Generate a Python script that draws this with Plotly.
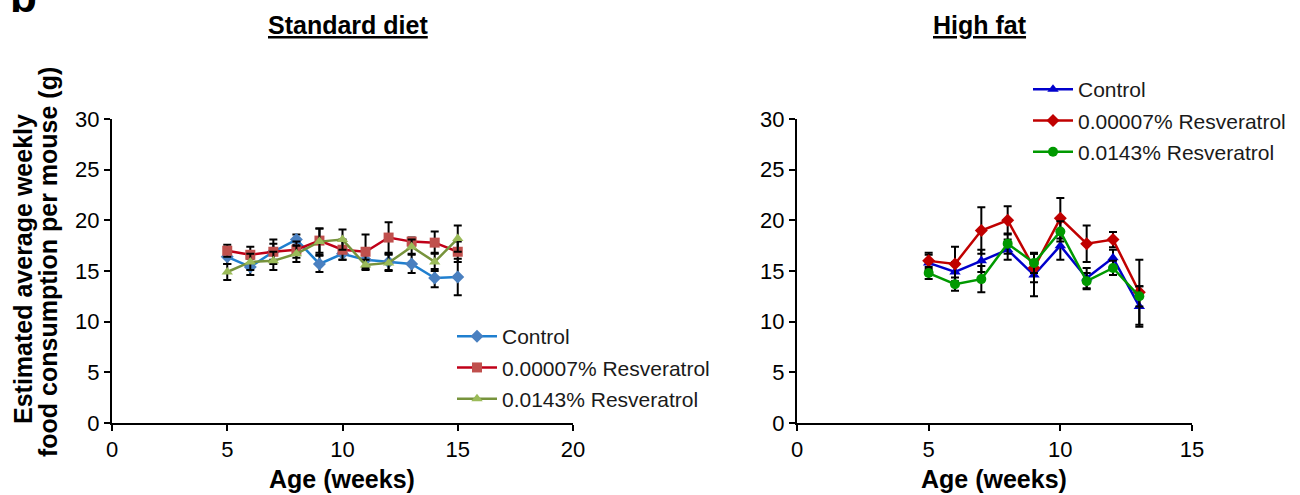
import plotly.graph_objects as go

W, H = 1300, 495

weeks_sd = [5, 6, 7, 8, 9, 10, 11, 12, 13, 14, 15]
control_sd = [16.4, 15.4, 16.9, 18.1, 15.7, 16.7, 16.1, 15.9, 15.7, 14.3, 14.4]
control_sd_err = [0.7, 0.8, 0.8, 0.5, 0.8, 0.6, 0.7, 0.8, 0.9, 0.9, 1.8]
low_sd = [17.0, 16.6, 16.9, 17.1, 18.0, 17.1, 16.9, 18.3, 17.9, 17.8, 16.9]
low_sd_err = [0.6, 0.8, 1.2, 0.8, 1.2, 1.0, 1.7, 1.5, 0.4, 1.1, 1.0]
high_sd = [14.9, 15.9, 16.0, 16.7, 17.9, 18.1, 15.6, 15.8, 17.4, 15.9, 18.2]
high_sd_err = [0.8, 0.8, 0.9, 0.8, 1.3, 1.0, 0.5, 0.8, 0.7, 0.9, 1.3]

weeks_hf = [5, 6, 7, 8, 9, 10, 11, 12, 13]
control_hf = [15.8, 14.9, 16.0, 17.1, 14.6, 17.5, 14.3, 16.3, 11.5]
control_hf_err = [0.8, 1.0, 1.1, 1.0, 2.1, 1.4, 1.0, 0.8, 2.0]
low_hf = [16.0, 15.7, 19.0, 20.0, 15.3, 20.2, 17.7, 18.1, 12.9]
low_hf_err = [0.8, 1.7, 2.3, 1.4, 1.4, 2.0, 1.8, 0.75, 3.2]
high_hf = [14.8, 13.7, 14.2, 17.7, 15.8, 18.9, 14.0, 15.3, 12.5]
high_hf_err = [0.6, 0.65, 1.3, 1.0, 1.0, 1.0, 0.8, 0.7, 1.0]

names = ["Control", "0.00007% Resveratrol", "0.0143% Resveratrol"]

FONT = "Liberation Sans, Arial, sans-serif"

def px_x(p):
    return p / W

def px_y(p):
    return 1 - p / H

fig = go.Figure()

def add(x, y, err, name, line_col, mk_col, symbol, xa, ya, legend, group):
    fig.add_trace(go.Scatter(
        x=x, y=y, name=name, mode="lines+markers",
        line=dict(color=line_col, width=2.5),
        marker=dict(color=mk_col, symbol=symbol, size=10, line=dict(width=0)),
        error_y=dict(type="data", array=err, visible=True, color="black",
                     thickness=2, width=4),
        xaxis=xa, yaxis=ya, legend=legend, legendgroup=group,
    ))

add(weeks_sd, control_sd, control_sd_err, names[0], "#1f7fcf", "#4a80c0", "diamond", "x", "y", "legend", "a1")
add(weeks_sd, low_sd, low_sd_err, names[1], "#c00018", "#c0504d", "square", "x", "y", "legend", "a2")
add(weeks_sd, high_sd, high_sd_err, names[2], "#77933c", "#9bbb59", "triangle-up", "x", "y", "legend", "a3")

add(weeks_hf, control_hf, control_hf_err, names[0], "#0000cc", "#0000cc", "triangle-up", "x2", "y2", "legend2", "b1")
add(weeks_hf, low_hf, low_hf_err, names[1], "#c00000", "#c00000", "diamond", "x2", "y2", "legend2", "b2")
add(weeks_hf, high_hf, high_hf_err, names[2], "#009900", "#009900", "circle", "x2", "y2", "legend2", "b3")

ax_common = dict(showline=True, linecolor="black", linewidth=2, ticks="outside",
                 tickcolor="black", tickwidth=2, ticklen=6, showgrid=False,
                 zeroline=False, automargin=False,
                 tickfont=dict(family=FONT, size=22, color="black"))

y_dom = [px_y(423), px_y(119)]
fig.update_layout(
    width=W, height=H, margin=dict(l=0, r=0, t=0, b=0, autoexpand=False),
    plot_bgcolor="white", paper_bgcolor="white",
    font=dict(family=FONT, color="black"),
    xaxis=dict(domain=[px_x(112), px_x(573)], range=[0, 20], dtick=5, anchor="y", **ax_common),
    yaxis=dict(domain=y_dom, range=[0, 30], dtick=5, anchor="x", **ax_common),
    xaxis2=dict(domain=[px_x(797), px_x(1192)], range=[0, 15], dtick=5, anchor="y2", **ax_common),
    yaxis2=dict(domain=y_dom, range=[0, 30], dtick=5, anchor="x2", **ax_common),
    legend=dict(x=px_x(452), y=px_y(316), xanchor="left", yanchor="top",
                font=dict(family=FONT, size=21, color="#1a1a1a"), itemwidth=40,
                tracegroupgap=1, bgcolor="rgba(0,0,0,0)"),
    legend2=dict(x=px_x(1028), y=px_y(69), xanchor="left", yanchor="top",
                 font=dict(family=FONT, size=21, color="#1a1a1a"), itemwidth=40,
                 tracegroupgap=1, bgcolor="rgba(0,0,0,0)"),
    showlegend=True,
)

bold = dict(family=FONT, size=25, color="black")
annots = [
    dict(text="<b><u>Standard diet</u></b>", x=px_x(348), y=px_y(25), font=bold),
    dict(text="<b><u>High fat</u></b>", x=px_x(980), y=px_y(25), font=bold),
    dict(text="<b>Age (weeks)</b>", x=px_x(342), y=px_y(479), font=bold),
    dict(text="<b>Age (weeks)</b>", x=px_x(994), y=px_y(479), font=bold),
    dict(text="<b>Estimated average weekly</b>", x=px_x(23), y=px_y(269), font=bold, textangle=-90),
    dict(text="<b>food consumption per mouse (g)</b>", x=px_x(48), y=px_y(262), font=bold, textangle=-90),
]
for a in annots:
    fig.add_annotation(xref="paper", yref="paper", showarrow=False,
                       xanchor="center", yanchor="middle", **a)

fig.add_annotation(text="<b>b</b>", xref="paper", yref="paper", x=px_x(8), y=px_y(23),
                   xanchor="left", yanchor="bottom", showarrow=False,
                   font=dict(family=FONT, size=44, color="black"))

fig.write_html("out.html")
